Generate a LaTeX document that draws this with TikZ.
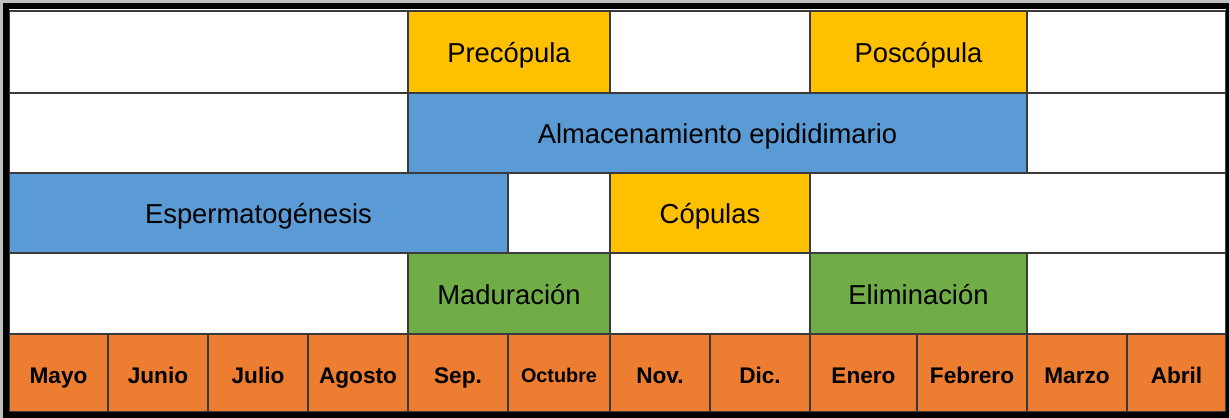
\documentclass[tikz,border=0pt]{standalone}
\usepackage{fontspec}
\setmainfont{Liberation Sans}
\definecolor{cgold}{HTML}{FFC000}
\definecolor{cblue}{HTML}{5B9BD5}
\definecolor{cgreen}{HTML}{70AD47}
\definecolor{corange}{HTML}{ED7D31}
\definecolor{cline}{HTML}{3A3A3A}
\tikzset{
  cellbox/.style={draw=cline, line width=0.6pt, inner sep=0pt, outer sep=0pt, font=\fontsize{13.7}{16}\selectfont, text=black, text height=10.6pt, text depth=0pt},
  monthbox/.style={cellbox, fill=corange, font=\fontsize{11.3}{13}\selectfont\bfseries, text height=10.6pt, text depth=0pt},
}
\newcommand\mycell[7][]{%
  \node[cellbox,#1, minimum width={(#4-#2)*0.5pt}, minimum height={(#5-#3)*0.5pt}] (#6) at ({(#2+#4)/2},{(#3+#5)/2}) {#7};}
\begin{document}
\begin{tikzpicture}[x=0.5pt,y=-0.5pt]
\useasboundingbox (0,0) rectangle (1229,417);
\fill[white] (0,0) rectangle (1229,417);
% row 1
\mycell[fill=white]{9}{11}{408}{93}{ra}{}
\mycell[fill=cgold]{408}{11}{610}{93}{pre}{Precópula}
\mycell[fill=white]{610}{11}{810}{93}{rb}{}
\mycell[fill=cgold]{810}{11}{1027}{93}{pos}{Poscópula}
\mycell[fill=white]{1027}{11}{1226}{93}{rc}{}
% row 2
\mycell[fill=white]{9}{93}{408}{173}{sa}{}
\mycell[fill=cblue]{408}{93}{1027}{173}{alm}{Almacenamiento epididimario}
\mycell[fill=white]{1027}{93}{1226}{173}{sb}{}
% row 3
\mycell[fill=cblue]{9}{173}{508}{253}{esp}{Espermatogénesis}
\mycell[fill=white]{508}{173}{610}{253}{ta}{}
\mycell[fill=cgold]{610}{173}{810}{253}{cop}{Cópulas}
\mycell[fill=white]{810}{173}{1226}{253}{tb}{}
% row 4
\mycell[fill=white]{9}{253}{408}{334}{ua}{}
\mycell[fill=cgreen]{408}{253}{610}{334}{mad}{Maduración}
\mycell[fill=white]{610}{253}{810}{334}{ub}{}
\mycell[fill=cgreen]{810}{253}{1027}{334}{eli}{Eliminación}
\mycell[fill=white]{1027}{253}{1226}{334}{uc}{}
% months
\mycell[monthbox]{9}{334}{108}{412}{m1}{Mayo}
\mycell[monthbox]{108}{334}{208}{412}{m2}{Junio}
\mycell[monthbox]{208}{334}{308}{412}{m3}{Julio}
\mycell[monthbox]{308}{334}{408}{412}{m4}{Agosto}
\mycell[monthbox]{408}{334}{508}{412}{m5}{Sep.}
\mycell[monthbox,font=\fontsize{9.9}{12}\selectfont\bfseries, text height=9.6pt]{508}{334}{610}{412}{m6}{Octubre}
\mycell[monthbox]{610}{334}{710}{412}{m7}{Nov.}
\mycell[monthbox]{710}{334}{810}{412}{m8}{Dic.}
\mycell[monthbox]{810}{334}{917}{412}{m9}{Enero}
\mycell[monthbox]{917}{334}{1027}{412}{m10}{Febrero}
\mycell[monthbox]{1027}{334}{1127}{412}{m11}{Marzo}
\mycell[monthbox]{1127}{334}{1226}{412}{m12}{Abril}
% frame
\draw[black!25, line width=2pt] (1.5,1.5) rectangle (1229,417);
\draw[black, line width=3pt] (6.2,6) rectangle (1229,415.3);
\end{tikzpicture}
\end{document}
